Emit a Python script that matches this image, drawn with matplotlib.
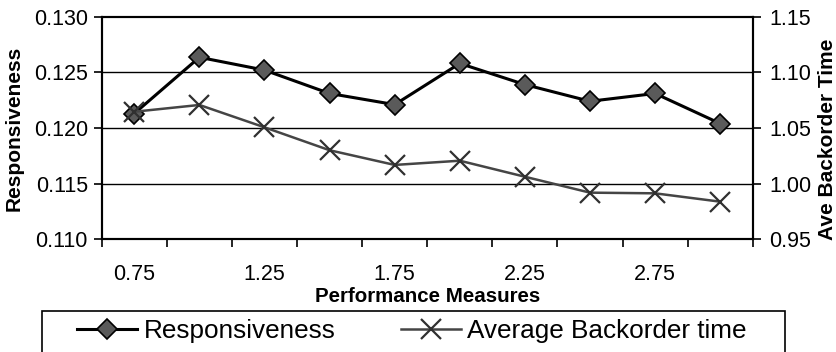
import matplotlib
matplotlib.use("Agg")
import matplotlib.pyplot as plt
from matplotlib.patches import Rectangle
import numpy as np

plt.rcParams['font.family'] = ['Liberation Sans', 'DejaVu Sans']

categories = ["0.75", "1.00", "1.25", "1.50", "1.75", "2.00", "2.25", "2.50", "2.75", "3.00"]
tick_labels = ["0.75", "", "1.25", "", "1.75", "", "2.25", "", "2.75", ""]
responsiveness = [0.1213, 0.12635, 0.1252, 0.1231, 0.1221, 0.1258, 0.1239, 0.1224, 0.1231, 0.1204]
backorder = [1.0646, 1.0707, 1.0506, 1.030, 1.0168, 1.0206, 1.0062, 0.9919, 0.9913, 0.9838]

W, H = 836, 352
fig = plt.figure(figsize=(W / 100, H / 100), dpi=100)
ax = fig.add_axes([0.1217, 0.3202, 0.7787, 0.6324])
ax2 = ax.twinx()

x = np.arange(len(categories))
l1, = ax.plot(x, responsiveness, color='black', lw=2.2, marker='D', markersize=10,
              markerfacecolor='#5a5a5a', markeredgecolor='black', markeredgewidth=1.2,
              label='Responsiveness', zorder=5)
l2, = ax2.plot(x, backorder, color='#454545', lw=1.8, marker='x', markersize=14,
               markeredgewidth=1.6, markeredgecolor='#303030', label='Average Backorder time', zorder=4)

ax.set_xlim(-0.5, len(categories) - 0.5)
ax.set_ylim(0.110, 0.130)
ax.set_yticks([0.110, 0.115, 0.120, 0.125, 0.130])
ax.set_yticklabels(["0.110", "0.115", "0.120", "0.125", "0.130"])
ax2.set_ylim(0.95, 1.15)
ax2.set_yticks([0.95, 1.00, 1.05, 1.10, 1.15])
ax2.set_yticklabels(["0.95", "1.00", "1.05", "1.10", "1.15"])

ax.set_xticks(np.arange(len(categories) + 1) - 0.5)
ax.set_xticklabels([])
ax.set_xticks(x, minor=True)
ax.set_xticklabels(tick_labels, minor=True)
ax.tick_params(axis='x', which='major', length=6, width=1.2, direction='out', color='black')
ax.tick_params(axis='x', which='minor', length=0, labelsize=15.5, pad=18)
ax.tick_params(axis='y', length=6, width=1.2, direction='out', labelsize=15.5, pad=4)
ax2.tick_params(axis='y', length=6, width=1.2, direction='out', labelsize=15.5, pad=6)

for yv in [0.115, 0.120, 0.125]:
    ax.axhline(yv, color='black', lw=1.0, zorder=1)

for a in (ax, ax2):
    for s in a.spines.values():
        s.set_color('black')
        s.set_linewidth(1.5)

ax.set_xlabel('Performance Measures', fontsize=14.8, fontweight='bold')
ax.xaxis.label.set_va('center')
ax.xaxis.set_label_coords(0.5, (239.3 - 297) / 222.6)
ax.set_ylabel('Responsiveness', fontsize=15, fontweight='bold')
ax.yaxis.label.set_va('center')
ax.yaxis.set_label_coords((14 - 101.7) / 650.9, 0.5)
ax2.set_ylabel('Ave Backorder Time', fontsize=15, fontweight='bold')
ax2.yaxis.label.set_va('center')
ax2.yaxis.set_label_coords((827 - 101.7) / 650.9, (239.3 - 139) / 222.6)

# legend box
fig.add_artist(Rectangle((42 / W, -0.01), (785 - 42) / W, 0.01 + (H - 310.7) / H,
                         transform=fig.transFigure, fill=False, edgecolor='black', lw=1.2))
leg = fig.legend(handles=[l1, l2], loc='center left', bbox_to_anchor=(77 / W, 1 - 331 / H),
                 ncol=2, fontsize=18.8, frameon=False, handlelength=2.3, handletextpad=0.25,
                 borderpad=0, columnspacing=2.5, borderaxespad=0)

fig.savefig('out.png', dpi=100)
